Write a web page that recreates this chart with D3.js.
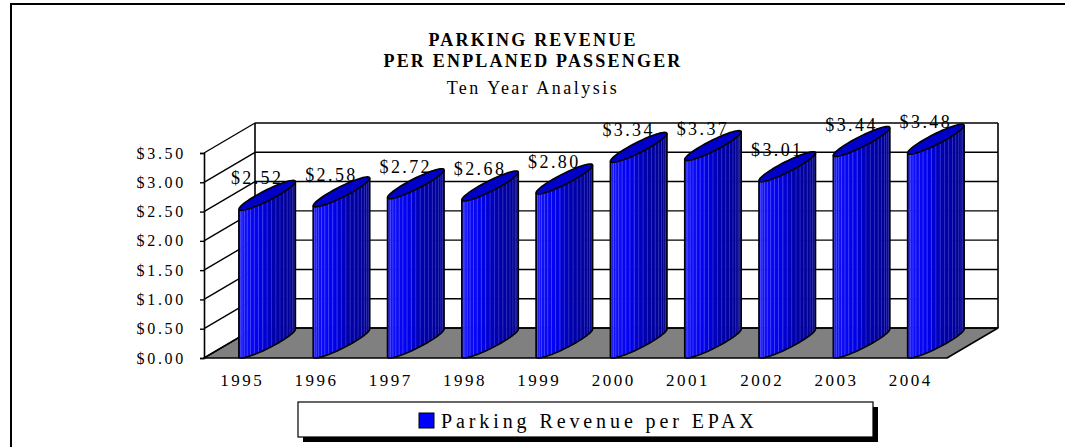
<!DOCTYPE html>
<html>
<head>
<meta charset="utf-8">
<script src="https://cdn.jsdelivr.net/npm/d3@7"></script>
<style>
  body { margin: 0; background: #fff; }
  text { font-family: "Liberation Serif", "Times New Roman", serif; fill: #000; }
</style>
</head>
<body>
<div id="chart-area"></div>
<script>
var width = 1065;
var height = 447;

// Data
var years = ['1995','1996','1997','1998','1999','2000','2001','2002','2003','2004'];
var values = [2.52, 2.58, 2.72, 2.68, 2.80, 3.34, 3.37, 3.01, 3.44, 3.48];
var yTicks = [0, 0.5, 1.0, 1.5, 2.0, 2.5, 3.0, 3.5];
var titleLines = ['PARKING REVENUE', 'PER ENPLANED PASSENGER', 'Ten Year Analysis'];
var seriesName = 'Parking Revenue per EPAX';

// front plane of the 3d box + depth offset
var front = {left: 204, right: 947, bottom: 358, top: 153};
var depth = {dx: 51, dy: -30};

var svg = d3.select('#chart-area').append('svg')
            .attr('width', width)
            .attr('height', height);

// outer frame (right and bottom edges fall outside the picture)
svg.append('rect')
   .attr('x', 11).attr('y', 4)
   .attr('width', 1080).attr('height', 470)
   .attr('fill', 'none')
   .attr('stroke', '#000')
   .attr('stroke-width', 2);

// Scales
var xScale = d3.scaleBand().domain(years).range([front.left, front.right]).padding(0);
var yScale = d3.scaleLinear().domain([0, 3.5]).range([front.bottom, front.top]);
var bw = xScale.bandwidth();

// Floor
var y0 = yScale(0);
svg.append('path')
   .attr('d', 'M' + front.left + ',' + y0 + 'L' + front.right + ',' + y0 +
              'L' + (front.right + depth.dx) + ',' + (y0 + depth.dy) +
              'L' + (front.left + depth.dx) + ',' + (y0 + depth.dy) + 'Z')
   .attr('fill', '#808080')
   .attr('stroke', '#000')
   .attr('stroke-width', 1.5)
   .attr('stroke-linejoin', 'round');

// Back wall gridlines and left wall diagonals
var grid = svg.append('g').attr('class', 'grid');
grid.selectAll('.back')
    .data(yTicks)
    .enter().append('line')
    .attr('x1', front.left + depth.dx)
    .attr('x2', front.right + depth.dx)
    .attr('y1', function(d){ return yScale(d) + depth.dy; })
    .attr('y2', function(d){ return yScale(d) + depth.dy; })
    .attr('stroke', '#000').attr('stroke-width', 1.4);
grid.selectAll('.side')
    .data(yTicks)
    .enter().append('line')
    .attr('x1', front.left)
    .attr('x2', front.left + depth.dx)
    .attr('y1', function(d){ return yScale(d); })
    .attr('y2', function(d){ return yScale(d) + depth.dy; })
    .attr('stroke', '#000').attr('stroke-width', 1.4);
// wall edges
grid.append('line')
    .attr('x1', front.left + depth.dx).attr('x2', front.left + depth.dx)
    .attr('y1', front.top + depth.dy).attr('y2', front.bottom + depth.dy)
    .attr('stroke', '#000').attr('stroke-width', 1.6);
grid.append('line')
    .attr('x1', front.right + depth.dx).attr('x2', front.right + depth.dx)
    .attr('y1', front.top + depth.dy).attr('y2', front.bottom + depth.dy)
    .attr('stroke', '#000').attr('stroke-width', 1.6);

// Y axis on the front left edge
var yAxis = d3.axisLeft(yScale)
              .tickValues(yTicks)
              .tickSize(4)
              .tickPadding(14)
              .tickFormat(d3.format('$.2f'));
var yAxisG = svg.append('g')
                .attr('transform', 'translate(' + front.left + ',0)')
                .call(yAxis);
yAxisG.select('.domain').attr('stroke', '#000').attr('stroke-width', 1.6);
yAxisG.selectAll('.tick line').attr('stroke', '#000').attr('stroke-width', 1.4);
yAxisG.selectAll('.tick text')
      .attr('font-family', '"Liberation Serif", serif')
      .attr('font-size', '16px')
      .attr('letter-spacing', '2.7px')
      .attr('fill', '#000');

// X labels
svg.append('g').selectAll('text')
   .data(years)
   .enter().append('text')
   .attr('x', function(d){ return xScale(d) + bw / 2 + 1; })
   .attr('y', 386)
   .attr('text-anchor', 'middle')
   .attr('font-size', '17px')
   .attr('letter-spacing', '2.5px')
   .text(function(d){ return d; });

// Cylinder geometry
var rx = 11;                 // radius across x
var ax = depth.dx * 0.51;    // depth stretch in x
var by = -depth.dy * 0.5;    // depth stretch in y
var tL = Math.atan2(-ax, -rx);
var tR = tL + Math.PI;
var nFacets = 20;

function pt(cx, cy, t) {
  return [cx + rx * Math.cos(t) + ax * Math.sin(t), cy - by * Math.sin(t)];
}

var shade = d3.scaleLinear()
              .domain([0, 0.4, 0.58, 1])
              .range(['#1c1cff', '#0000f0', '#0000aa', '#00007c']);

var bars = years.map(function(yr, i){
  return {year: yr, value: values[i],
          cx: xScale(yr) + bw / 2 + ax,
          cyTop: yScale(values[i]) - by,
          cyBot: yScale(0) - by};
});

// Data labels (drawn behind the bars)
svg.append('g').selectAll('text')
   .data(bars)
   .enter().append('text')
   .attr('x', function(d){ return d.cx - 10; })
   .attr('y', function(d){ return d.cyTop - 11; })
   .attr('text-anchor', 'middle')
   .attr('font-size', '18px')
   .attr('letter-spacing', '2.4px')
   .attr('fill', '#222')
   .text(function(d){ return d3.format('$.2f')(d.value); });

var barG = svg.append('g').selectAll('g')
              .data(bars)
              .enter().append('g');

barG.each(function(d){
  var g = d3.select(this);
  var ts = d3.range(nFacets + 1).map(function(k){ return tL + (tR - tL) * k / nFacets; });
  // facets
  for (var k = 0; k < nFacets; k++) {
    var a = pt(d.cx, d.cyTop, ts[k]), b = pt(d.cx, d.cyTop, ts[k + 1]);
    var c = pt(d.cx, d.cyBot, ts[k + 1]), e = pt(d.cx, d.cyBot, ts[k]);
    var col = shade((k + 0.5) / nFacets);
    g.append('path')
     .attr('d', 'M' + a + 'L' + b + 'L' + c + 'L' + e + 'Z')
     .attr('fill', col)
     .attr('stroke', col)
     .attr('stroke-width', 0.6);
  }
  // light facet lines
  for (var k = 2; k < nFacets; k++) {
    var p1 = pt(d.cx, d.cyTop, ts[k]), p2 = pt(d.cx, d.cyBot, ts[k]);
    g.append('line')
     .attr('x1', p1[0]).attr('y1', p1[1])
     .attr('x2', p2[0]).attr('y2', p2[1])
     .attr('stroke', '#8c8cff')
     .attr('stroke-opacity', k < nFacets * 0.5 ? 0.6 : 0.4)
     .attr('stroke-width', 0.7);
  }
  // outline of the body
  var topArc = ts.map(function(t){ return pt(d.cx, d.cyTop, t); });
  var botArc = ts.map(function(t){ return pt(d.cx, d.cyBot, t); });
  var outline = 'M' + topArc[0] + 'L' + botArc.join('L') + 'L' + topArc[nFacets] ;
  g.append('path')
   .attr('d', outline)
   .attr('fill', 'none')
   .attr('stroke', '#000')
   .attr('stroke-width', 1.6)
   .attr('stroke-linejoin', 'round');
  // top ellipse
  var top = d3.range(0, 361, 6).map(function(deg){ return pt(d.cx, d.cyTop, deg * Math.PI / 180); });
  g.append('path')
   .attr('d', 'M' + top.join('L') + 'Z')
   .attr('fill', '#0000c8')
   .attr('stroke', '#000')
   .attr('stroke-width', 1.6)
   .attr('stroke-linejoin', 'round');
});

// Title
var titleY = [46, 67, 94];
svg.append('g').selectAll('text')
   .data(titleLines)
   .enter().append('text')
   .attr('x', 533)
   .attr('y', function(d, i){ return titleY[i]; })
   .attr('text-anchor', 'middle')
   .attr('font-size', '18px')
   .attr('font-weight', function(d, i){ return i < 2 ? 'bold' : 'normal'; })
   .attr('letter-spacing', function(d, i){ return i < 2 ? '2.2px' : '2.5px'; })
   .text(function(d){ return d; });

// Legend
var legend = svg.append('g');
legend.append('rect')
      .attr('x', 303).attr('y', 407)
      .attr('width', 575).attr('height', 35)
      .attr('fill', '#000');
legend.append('rect')
      .attr('x', 298).attr('y', 402)
      .attr('width', 575).attr('height', 35)
      .attr('fill', '#fff')
      .attr('stroke', '#000')
      .attr('stroke-width', 1.2);
legend.append('rect')
      .attr('x', 419).attr('y', 413)
      .attr('width', 15).attr('height', 15)
      .attr('fill', '#0000ff')
      .attr('stroke', '#000')
      .attr('stroke-width', 1);
legend.append('text')
      .attr('x', 441).attr('y', 428)
      .attr('font-size', '20px')
      .attr('letter-spacing', '3.9px')
      .text(seriesName);
</script>
</body>
</html>
